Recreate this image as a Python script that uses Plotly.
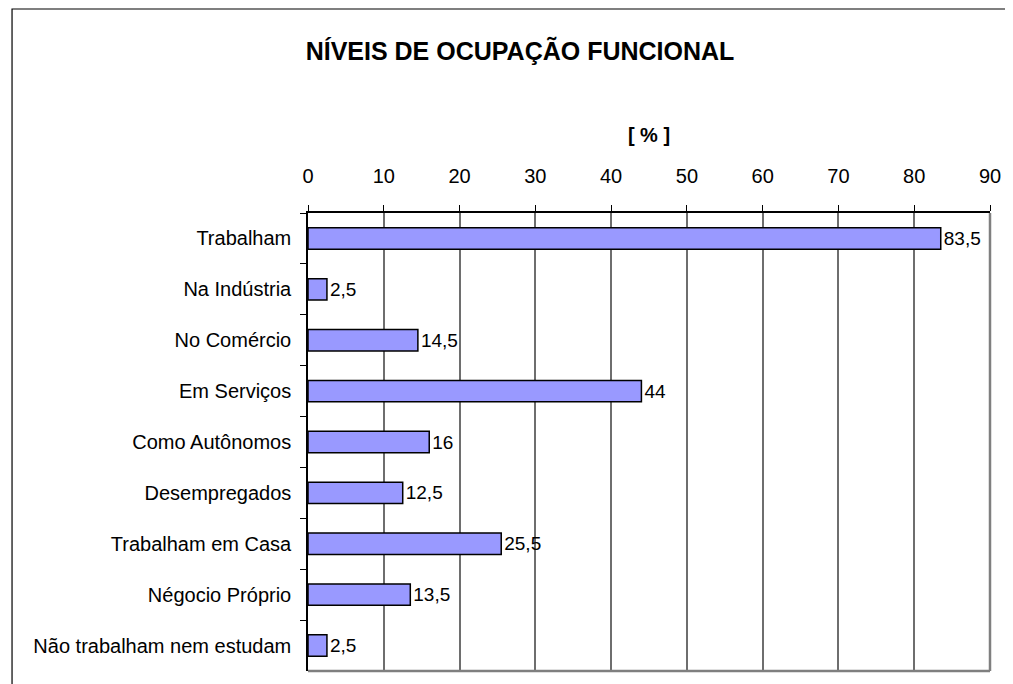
import plotly.graph_objects as go

categories = ["Trabalham", "Na Indústria", "No Comércio", "Em Serviços", "Como Autônomos",
              "Desempregados", "Trabalham em Casa", "Négocio Próprio", "Não trabalham nem estudam"]
values = [83.5, 2.5, 14.5, 44, 16, 12.5, 25.5, 13.5, 2.5]
x_ticks = [0, 10, 20, 30, 40, 50, 60, 70, 80, 90]

# page body has an 8px margin; work in figure coordinates
OFF = 8
W, H = 1013 - OFF, 684 - OFF
L, R, T, B = 308 - OFF, 997 - OFF, 213 - OFF, 671 - OFF
FONT = "Liberation Sans, Arial, sans-serif"

fig = go.Figure(go.Bar(
    y=categories, x=values, orientation="h",
    marker=dict(color="#9999FF", line=dict(color="black", width=1.5)),
    texttemplate="%{x}", textposition="outside", cliponaxis=False,
    constraintext="none",
    textfont=dict(family=FONT, size=19, color="black"),
    width=0.42,
))

fig.update_layout(
    width=W, height=H,
    margin=dict(l=L, r=W - R, t=T, b=H - B, pad=0),
    paper_bgcolor="white", plot_bgcolor="white",
    separators=",.",
    showlegend=False,
    font=dict(family=FONT, size=20, color="black"),
    title=dict(text="<b>NÍVEIS DE OCUPAÇÃO FUNCIONAL</b>", x=(520 - OFF) / W, xanchor="center",
               y=1 - (51 - OFF) / H, yanchor="middle", font=dict(size=25, color="black")),
    xaxis=dict(side="top", range=[0, 90], tickvals=x_ticks, ticks="outside", ticklen=6,
               tickcolor="black", showline=True, linecolor="black", linewidth=1.5,
               showgrid=True, gridcolor="#6e6e6e", gridwidth=1.5, zeroline=False,
               ticklabelstandoff=14, tickfont=dict(size=20),
               title=dict(text="<b>[ % ]</b>", standoff=17, font=dict(size=20)),
               mirror=False, fixedrange=True),
    yaxis=dict(autorange="reversed", tickson="boundaries", ticks="outside", ticklen=6,
               tickcolor="black", showline=True, linecolor="black", linewidth=1.5,
               showgrid=False, ticklabelstandoff=11, tickfont=dict(size=20), fixedrange=True),
    bargap=0.58,
)

# plot-area right and bottom borders (gray)
fig.add_shape(type="line", xref="paper", yref="paper", x0=1, x1=1, y0=0, y1=1,
              line=dict(color="#7f7f7f", width=2.5))
fig.add_shape(type="line", xref="paper", yref="paper", x0=0, x1=1, y0=0, y1=0,
              line=dict(color="#7f7f7f", width=2.5))

# outer chart border (top and left visible)
pw, ph = R - L, B - T
fig.add_shape(type="rect", xref="paper", yref="paper",
              x0=(9 - OFF - L) / pw, x1=(W + 20 - L) / pw,
              y0=-(H + 20 - B) / ph, y1=1 + (T - (9 - OFF)) / ph,
              line=dict(color="black", width=1.2), layer="below")

fig.write_html("out.html")
